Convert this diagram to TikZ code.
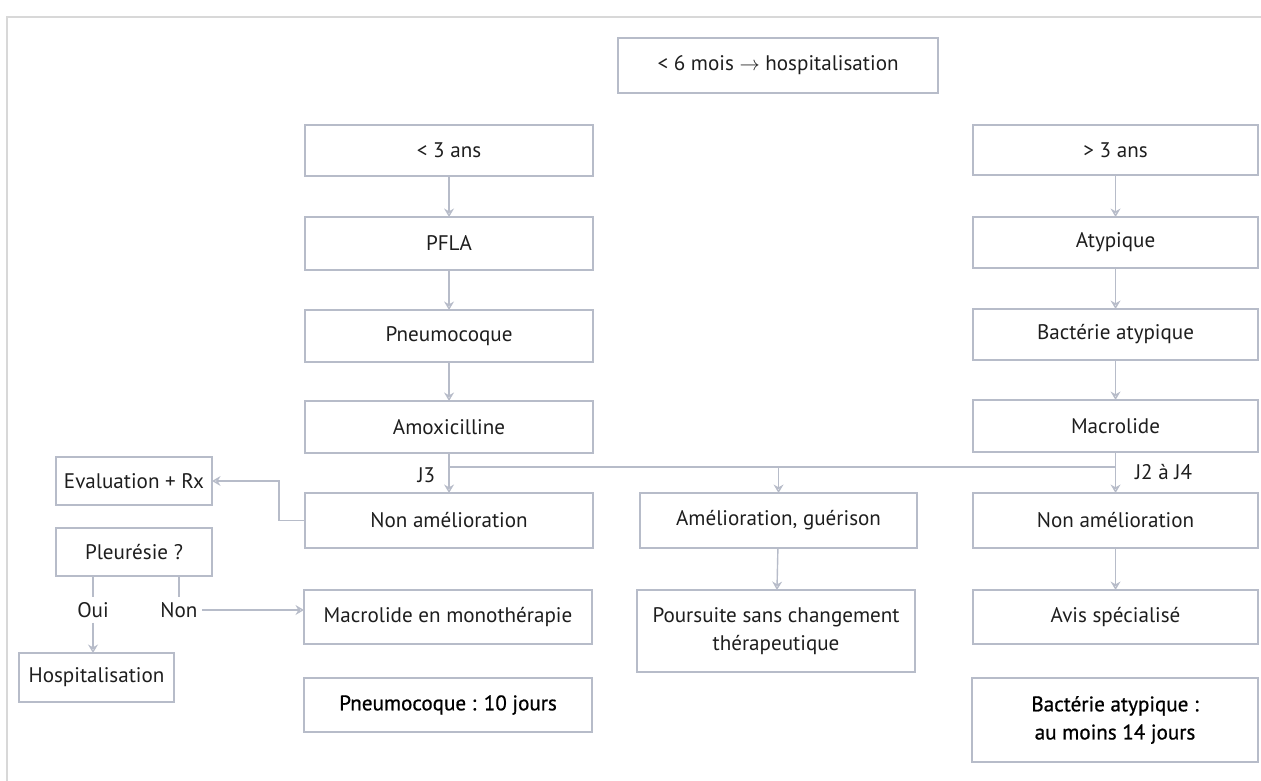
\documentclass[tikz,border=0pt]{standalone}
\usepackage{fontspec}
\setmainfont{PT Sans}
\newfontfamily\dureefont[FakeBold=0.8]{PT Sans}
\usetikzlibrary{arrows.meta,calc}

\definecolor{boxc}{HTML}{B7BCC9}
\definecolor{txtc}{HTML}{1E1E1E}
\definecolor{framec}{HTML}{D8D8D8}

\begin{document}
\begin{tikzpicture}[x=0.025cm,y=-0.025cm,
    every node/.style={font=\fontsize{15}{20}\selectfont,text=txtc},
    box/.style={draw=boxc,line width=1pt,rectangle,anchor=north west,align=center,
      minimum width=7.2cm,minimum height=#1*0.025cm,inner sep=2pt,outer sep=0pt},
    box/.default=52,
    duree/.style={font=\fontsize{15}{20}\dureefont,text=black},
    link/.style={draw=boxc,line width=1pt},
    arr/.style={link,-{Stealth[open,length=6pt,width=7pt]}}]
  \useasboundingbox (0,0) rectangle (1261,781);
  \draw[framec,line width=0.8pt] (1261,17) -- (7,17) -- (7,781);

  \node[box=55,minimum width=8cm] (T) at (618,38) {< 6 mois $\rightarrow$ hospitalisation};

  % moins de 3 ans
  \node[box=51] (L1) at (305,125) {< 3 ans};
  \node[box=53] (L2) at (305,217) {PFLA};
  \node[box] (L3) at (305,310) {Pneumocoque};
  \node[box] (L4) at (305,401) {Amoxicilline};
  \node[box=55] (L5) at (305,493) {Non amélioration};
  \node[box=54] (L6) at (304,590) {Macrolide en monothérapie};
  \node[box=54,duree] (L7) at (304,678) {Pneumocoque : 10 jours};

  % plus de 3 ans
  \node[box=50,minimum width=7.125cm] (R1) at (973,125) {> 3 ans};
  \node[box=51,minimum width=7.125cm] (R2) at (973,217) {Atypique};
  \node[box=51,minimum width=7.125cm] (R3) at (973,309) {Bactérie atypique};
  \node[box,minimum width=7.125cm] (R4) at (973,400) {Macrolide};
  \node[box=55,minimum width=7.125cm] (R5) at (973,493) {Non amélioration};
  \node[box=54,minimum width=7.125cm] (R6) at (973,590) {Avis spécialisé};
  \node[box=84,minimum width=7.15cm,duree] (R7) at (972,678) {Bactérie atypique :\\au moins 14 jours};

  \node[box=55,minimum width=6.925cm] (C1) at (640,493) {Amélioration, guérison};
  \node[box=82,minimum width=6.95cm] (C2) at (637,590) {Poursuite sans changement\\thérapeutique};

  \node[box=48,minimum width=3.9cm] (E1) at (56,457) {Evaluation + Rx};
  \node[box=48,minimum width=3.9cm] (E2) at (56,528) {Pleurésie ?};
  \node[box=49,minimum width=3.875cm] (E3) at (19,653) {Hospitalisation};
  \node (oui) at (93,610) {Oui};
  \node (non) at (179,610) {Non};

  \coordinate (jL) at (449,467);
  \coordinate (jR) at (1115,467);

  \path (L1) edge[arr] (L2) (L2) edge[arr] (L3) (L3) edge[arr] (L4);
  \path (R1) edge[arr] (R2) (R2) edge[arr] (R3) (R3) edge[arr] (R4);
  \path (L4) edge[arr] node[left=6pt,pos=0.55] {J3} (L5);
  \path (R4) edge[arr] node[right=10pt,pos=0.5] {J2 à J4} (R5);
  \path (jL) edge[link] (jR);
  \path (jL -| C1) edge[arr] (C1) (C1) edge[arr] (C2);
  \path (R5) edge[arr] (R6);
  \draw[arr] (L5.west) -- ++(-26,0) |- (E1.east);
  \path (E2.south -| oui) edge[link] (oui.north) (E2.south -| non) edge[link] (non.north);
  \path (oui) edge[arr] (E3.north -| oui);
  \path (non.east) edge[arr] (L6.west |- non.east);
\end{tikzpicture}
\end{document}
